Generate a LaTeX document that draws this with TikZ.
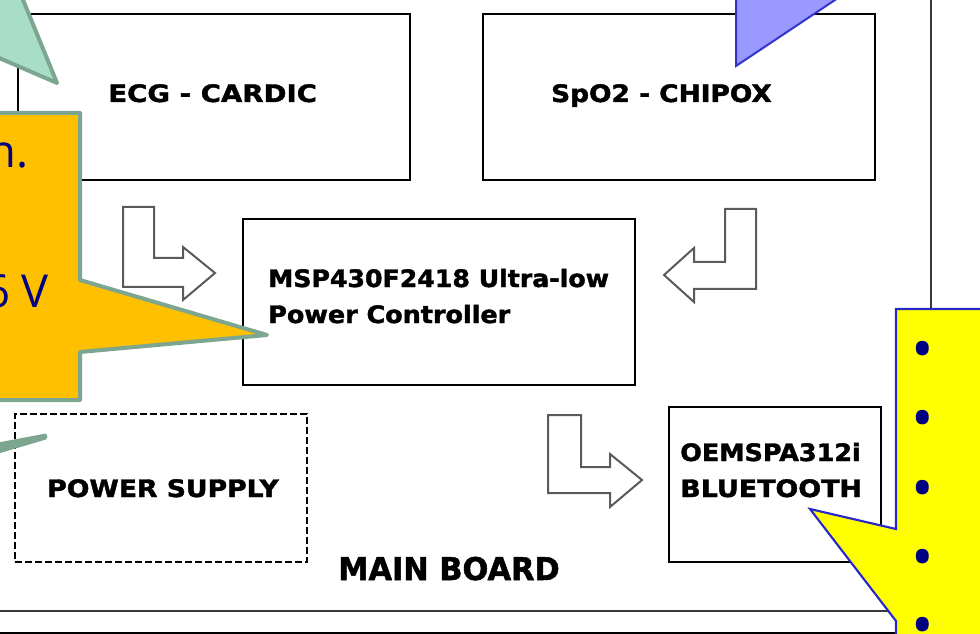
\documentclass[tikz,border=0pt]{standalone}
\usepackage{fontspec}
\setmainfont{DejaVu Sans}
\newfontfamily\boxfont{DejaVu Sans}[FakeBold=1.6]
\newfontfamily\callfont{Open Sans}
\definecolor{tealfill}{HTML}{A8DEC8}
\definecolor{greenline}{HTML}{7DA691}
\definecolor{orangefill}{HTML}{FFC000}
\definecolor{bluefill}{HTML}{9999FF}
\definecolor{blueline}{HTML}{3333CC}
\definecolor{yellowfill}{HTML}{FFFF00}
\definecolor{yellowline}{HTML}{2828C8}
\definecolor{navy}{HTML}{000080}
\definecolor{arrgray}{HTML}{5A5A5A}
\definecolor{framegray}{HTML}{3A3A3A}
\tikzset{
  blk/.style={draw=black, line width=1.5pt, fill=white, inner sep=0pt},
  dashblk/.style={draw=black, line width=1.4pt, dash pattern=on 5pt off 2.5pt, inner sep=0pt},
  lbl/.style={font=\boxfont\bfseries\fontsize{18}{20}\selectfont, inner sep=0pt, anchor=base west},
  biglbl/.style={font=\boxfont\bfseries\fontsize{23.5}{26}\selectfont, inner sep=0pt, anchor=base west},
  hollow/.style={draw=arrgray, line width=1.5pt, fill=white, line join=miter},
  greencall/.style={draw=greenline, line width=3pt, line join=round},
  calltext/.style={font=\callfont\fontsize{34}{40}\selectfont, text=navy, inner sep=0pt},
  bullettext/.style={font=\callfont\fontsize{45}{50}\selectfont, text=navy, inner sep=0pt, anchor=center},
}
\begin{document}
\begin{tikzpicture}[x=0.75pt,y=-0.75pt]
\useasboundingbox (0,0) rectangle (980,634);
\clip (0,0) rectangle (980,634);
% main board frame
\draw[framegray, line width=1.6pt] (-10,-10) rectangle (931,611);
\draw[black, line width=1.6pt] (-10,633) -- (990,633);
% boxes
\node[blk, minimum width=294pt, minimum height=124.5pt] (ecg) at (214,97) {};
\node[blk, minimum width=294pt, minimum height=124.5pt] (spo) at (679,97) {};
\node[blk, minimum width=294pt, minimum height=124.5pt] (msp) at (439,302) {};
\node[blk, minimum width=159pt, minimum height=116.25pt] (bt) at (775,484.5) {};
\node[dashblk, minimum width=219pt, minimum height=111pt] (ps) at (161,488) {};
% labels
\node[lbl] (ecgl) at (108,102) {\scalebox{1.15}[1]{ECG - CARDIC}};
\node[lbl, anchor=base east] (spol) at (772,102) {\scalebox{1.1}[1]{SpO2 - CHIPOX}};
\node[lbl] (mspl1) at (268,287) {\scalebox{1.05}[1]{MSP430F2418 Ultra-low}};
\node[lbl] (mspl2) at (268,323) {\scalebox{1.06}[1]{Power Controller}};
\node[lbl] (btl1) at (680,461) {\scalebox{1.06}[1]{OEMSPA312i}};
\node[lbl] (btl2) at (680,497) {\scalebox{1.12}[1]{BLUETOOTH}};
\node[lbl] (psl) at (47,497) {\scalebox{1.11}[1]{POWER SUPPLY}};
\node[biglbl] (mainl) at (338,580) {\scalebox{0.97}[1]{MAIN BOARD}};
% hollow block arrows
\draw[hollow] (123,207) -- (154,207) -- (154,258) -- (183,258) -- (183,247) -- (215,273) -- (183,300) -- (183,287) -- (123,287) -- cycle;
\draw[hollow] (725,209) -- (756,209) -- (756,289) -- (694,289) -- (694,302) -- (664,275) -- (694,248) -- (694,262) -- (725,262) -- cycle;
\draw[hollow] (548,415) -- (581,415) -- (581,467) -- (610,467) -- (610,454) -- (642,480) -- (610,507) -- (610,493) -- (548,493) -- cycle;
% callouts
\draw[greencall, fill=tealfill] (-10,-10) -- (19,-10) -- (57,83) -- (-10,54) -- cycle;
\draw[greencall, fill=orangefill] (-10,113) -- (80,113) -- (80,280) -- (267,335) -- (80,352) -- (80,400) -- (-10,400) -- cycle;
\fill[greenline] (-10,444) -- (46,433.5) -- (47.5,436.5) -- (46,439.5) -- (-10,456) -- cycle;
\draw[blueline, line width=1.5pt, fill=bluefill, line join=miter] (736,-10) -- (736,66) -- (850,-10) -- cycle;
\draw[yellowline, line width=1.6pt, fill=yellowfill, line join=miter] (990,309) -- (896,309) -- (896,529) -- (810,509) -- (896,621) -- (896,650) -- (990,650) -- cycle;
% callout texts
\node[calltext, anchor=base east] (t1) at (28.5,168) {n.};
\node[calltext, anchor=base east] (t2) at (49,307) {6 V};
\foreach \y/\n in {356/1,425/2,495/3,564/4,632/5}
  \node[bullettext] (b\n) at (923,\y) {•};
\end{tikzpicture}
\end{document}
